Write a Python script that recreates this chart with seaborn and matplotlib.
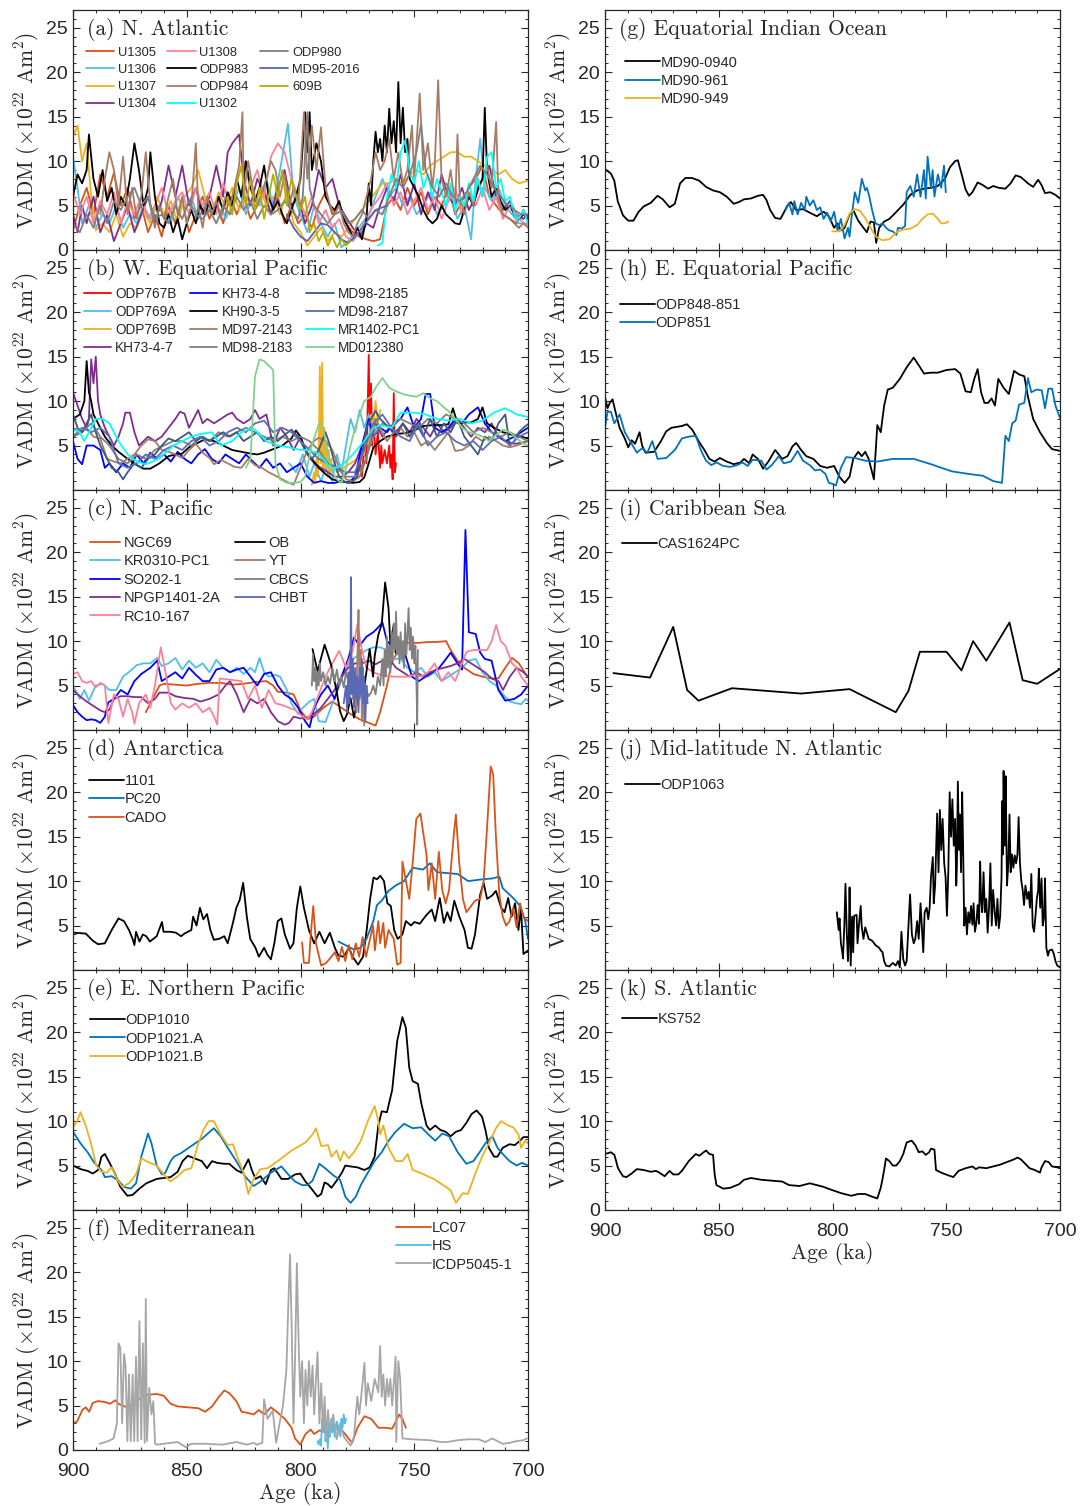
import numpy as np
import pandas as pd
import matplotlib
matplotlib.use("Agg")
import matplotlib.pyplot as plt
import seaborn as sns
from matplotlib.ticker import MultipleLocator

# ======================= DATA (age ka, VADM) =======================
# ---- (a) N. Atlantic ----
A_U1305 = [(900,2.2),(897,5),(894,7),(891,4),(888,8.5),(885,6),(882,8.7),(879,5),(876,7),(873,3.5),(870,5),(867,2),(864,4),(861,1.5),(858,5),(855,3),(852,5.5),(849,2),(846,4),(843,6),(840,3.5),(837,5.5),(834,3),(831,6),(828,4),(825,6),(822,3.5),(819,5),(816,7),(813,4),(810,6),(807,3),(804,5),(801,3),(798,4),(795,2.5),(792,5),(789,6.5),(786,4),(783,5),(780,3),(777,2),(774,1.5),(771,1.2),(768,1),(765,1.2),(762,5),(759,6),(756,4.5),(753,7),(750,5),(747,6.5),(744,4),(741,6),(738,5),(735,7),(732,4),(729,5.5),(726,7),(723,8),(720,9.5),(717,6),(714,5),(711,4),(708,3.5),(705,3),(702,4.5),(700,3.5)]
A_U1306 = [(900,10.5),(898,7),(896,3),(893,5),(890,2.5),(887,4),(884,3),(881,5),(878,2.5),(875,4),(872,3),(869,5),(866,3.5),(863,5),(860,4),(857,3),(854,6),(851,4.5),(848,6),(845,3.5),(842,5),(839,4),(836,6),(833,3.5),(830,5),(827,7),(824,4),(821,6),(818,5),(815,8),(812,5),(809,9),(805.5,14.2),(803,6),(800,4),(797,2),(794,5),(791,3),(788,1.5),(785,3),(782,0.3),(779,1),(776,2),(773,3),(770,4),(767,6),(764,8),(761,6),(758,7),(755,5),(752,6),(749,4),(746,5),(743,6.5),(740,4),(737,5),(734,6),(731,3.5),(728,5),(725,1.2),(723,8),(721,12.5),(719,7),(716,5.5),(713,7),(710,5),(707,4),(704,3),(700,3)]
A_U1307 = [(900,12.8),(898,14),(896,10),(894,12),(892,6),(890,2.2),(887,3),(884,2),(881,4),(878,1.5),(875,3),(872,2.5),(869,4.5),(866,3),(863,6),(860,4),(857,5.5),(854,3),(851,6),(848,7),(845,9),(842,6),(839,4),(836,6.5),(833,5),(830,7),(827,4.5),(824,6),(821,5),(818,7),(815,5),(812,6),(809,4),(806,6.5),(803,3),(800,2),(797,0.5),(794,1.5),(791,2.5),(788,1),(785,2),(782,1.5),(779,2.5),(776,3.5),(773,4.5),(770,5.5),(767,6.5),(764,7.5),(761,7.5),(758,8),(755,7.5),(752,8.5),(749,9),(746,8.5),(743,9.5),(740,10),(737,10.5),(734,11),(731,11),(728,10.5),(725,10.5),(722,10),(719,9.5),(716,9),(713,8.5),(710,9),(707,8),(704,7.5),(700,7.8)]
A_U1304 = [(900,4),(898,2),(896,5),(894,3),(891,6),(888,2),(885,4),(882,1),(879,3),(876,5),(873,2),(870,4),(867,6),(864,3),(861,5.5),(858,9.5),(855,6),(852,9.5),(849,5),(846,7),(843,4),(840,6),(837,9.5),(834,6),(832,11),(830,12),(827,13),(825,8),(822,5),(819,8),(816,6.5),(813,4),(810,7),(807,9),(804,5),(801,6),(798,3),(795,5),(792,9),(789,7),(786,8),(783,5),(780,3.7),(777,2.5),(774,1.5),(771,3),(768,2.5),(765,5),(762,7),(759,5.5),(756,8.5),(753,5),(750,7.5),(747,4),(744,6.5),(741,4.5),(738,8.5),(735,6),(732,5),(729,7),(726,4.5),(723,6),(720,8),(717,9.5),(714,6),(711,4.5),(708,5.5),(705,4),(702,3.5),(700,4)]
A_U1308 = [(900,6.5),(897,4),(894,6),(891,3),(888,5.5),(885,4),(882,6.5),(879,3),(876,5.5),(873,4),(870,6),(867,3.5),(864,5),(861,7),(858,4),(855,5.5),(852,6.5),(849,4),(846,7),(843,5),(840,6.5),(837,4),(834,7.5),(831,5),(828,8),(825,10),(822,7),(819,9),(816,6),(813,10.5),(810,12),(807,11),(804,8),(801,6),(798,4),(795,6),(792,3),(789,4.5),(786,2.5),(783,3.5),(780,1.5),(777,1),(774,2),(771,3.5),(768,5),(765,6),(762,7.5),(759,5),(756,6.5),(753,4),(750,5.5),(747,7),(744,4.5),(741,6),(738,3.5),(735,5.5),(732,7),(729,4),(726,6.5),(723,5),(720,7),(717,4.5),(714,6),(711,3.5),(708,5),(705,4),(702,3),(700,2.8)]
A_ODP983 = [(900,6),(898,8.5),(896,7.5),(894,9),(893,13),(891,8),(889,6),(887,9),(885,5.5),(883,7),(881,4),(879,6),(877,5),(875,8),(873,12),(871,9),(869,5),(867,7),(866,11),(864,6),(862,3),(860,2.5),(858,4),(856,2),(854,3.5),(852,1.2),(850,3),(848,4.5),(846,3),(844,5),(842,4),(840,5.5),(838,4),(836,6),(834,4.5),(832,6.5),(830,5),(828,8),(826,6),(824,10),(822,7),(820,5.5),(818,7),(816,9.5),(814,6),(812,4.5),(810,5.5),(808,4),(806,3),(804,4.5),(802,6),(800,8),(798,15.5),(797,11),(796,15.5),(795,9),(793,12),(791,10),(789,6),(787,5),(785,4.5),(783,5.5),(781,3.5),(779,2.5),(777,1.5),(775,2.5),(773,1.2),(771,3.5),(770,7.5),(769,5),(768,10),(767,13.3),(766,11),(765,12.5),(764,10),(763,14),(762,11),(761,15.9),(760,12),(759,14.5),(758,11),(757,18.9),(756,12),(755,16),(754,11),(753,12.5),(752,8),(750,7),(748,6),(746,4.5),(744,3.5),(742,3),(740,3.5),(738,5),(736,4),(734,3.5),(732,3),(730,2.9),(728,4.5),(726,6),(724,5),(722,7),(720,8),(719,16),(718,9),(716,6),(714,7),(712,5.5),(710,4.5),(708,5),(706,4),(704,3.5),(702,4),(700,3.5)]
A_ODP984 = [(888,4),(886,8),(884,11),(882,9),(880,5),(878,10.5),(876,4),(874,7),(872,3.5),(870,6),(868,11),(866,5),(864,2.5),(862,5),(860,3.5),(858,6),(856,8),(854,4),(852,6),(850,3),(848,5),(846,12),(845,5),(843,2.5),(841,6),(839,4),(837,5.5),(835,3.5),(833,6),(831,5),(829,7),(827,9.5),(825.5,15.5),(825,6),(823,10),(821,7),(819,5),(817,6.5),(815,8),(813,10),(811,9),(809,6),(807,8.5),(805,5),(803,7),(801,5.5),(800,9),(798.5,15.5),(797,8),(795,14),(793,9),(791,13.8),(789,7),(787,5),(785,4),(783,5),(781,3),(779,2),(777,1.5),(775,3),(773,4),(771,6),(769,8),(767,11),(765,9),(763,10),(761,12.5),(759,8),(757,11),(755,7.5),(753,9),(751,14),(750,8),(747.6,17.6),(746,9),(744,12),(742,7),(741,9.5),(739.5,19.1),(738,8),(736,6),(734,9),(732,5),(731,13),(730,6),(728,4),(726,6.5),(724,5),(722,8),(720,6),(718,9.5),(716,7),(714,14.4),(713,6),(711,4),(708,3.5),(706,3),(704,2.5),(702,3),(700,2.5)]
A_U1302 = [(766,0.5),(764,0.8),(762,6),(760,8.5),(758,7),(756,11),(754,12.3),(752,9),(750,7.5),(748,10),(746,7),(744,8.5),(742,6),(740,8),(738,6.5),(736,5),(734,7.5),(732,4.5),(730,6),(728,5),(726,7.5),(724,5.5),(722,8),(720,6),(718,10.5),(716,11),(714,7),(712,8),(710,5.5),(708,6),(706,4),(704,3.5),(702,4.5),(700,3)]
A_ODP980 = [(900,3),(897,2),(894,4),(891,2.5),(888,5),(885,3),(882,5.5),(879,4.5),(876,6),(873,7),(870,5),(867,6),(864,3.5),(861,4),(858,3),(855,5),(852,3.5),(849,5.5),(846,4),(843,3.5),(840,4.5),(837,3),(834,5),(831,4),(828,6),(825,4.5),(822,5.5),(819,3.5),(816,5),(813,4),(810,4.5),(807,5.5),(804,4.5),(801,3.5),(799,6),(797,15.5),(796,7),(794,5),(791,4),(788,3),(785,4),(782,4.4),(779,3),(776,3.5),(773,4.5),(770,3.5),(767,4.5),(764,4),(761,6),(758,8),(755,7),(752,8.5),(749,11),(747,14.2),(745,9),(742,7),(739,6),(736,7.5),(733,6),(730,5.5),(727,6.5),(724,8),(721,9.5),(718,8.5),(715,7),(712,6),(709,5),(706,4.5),(703,4),(700,4)]
A_MD95 = [(806,4),(803,2.5),(800,1.5),(797,1),(794,2),(791,3),(788,2.8),(785,2),(782,1.2),(779,0.8),(776,1.5),(773,2.5),(770,3.5),(767,4.5),(764,4.8),(762,5)]
A_609B = [(832,6),(830,4),(828,7.5),(826,9.5),(824,5),(822,8),(820,4.5),(818,7),(816,3.5),(814,6),(812,8.5),(810,6),(808,9),(806,5),(804,8),(802,6),(800,4.5),(798,6),(796,2),(794,3),(792,1),(790,2),(788,0.5),(786,1.5),(784,0.3),(782,1.2),(780,0.5),(778,1)]

# ---- (b) W. Equatorial Pacific ----
B_ODP767B = [(775,2),(774,3.5),(773,1.5),(772,5),(771,3),(770,15.2),(769.5,6),(769,12),(768.5,5),(768,8),(767,4),(766,6.5),(765,2.5),(764.5,5),(764,3),(763,4.5),(762,3),(761,5),(760.5,2.5),(760,4),(759.5,1.2),(759,10.9),(758.5,2),(758,3)]
B_ODP769A = [(805,3),(802,2),(799,4),(796,1.5),(794,3),(791,1),(789,2.5),(786,1),(784,4),(782,2),(780,5),(778,8),(776,6.5),(774,9),(772,7),(770,8.5),(768,6),(766,7.5)]
B_ODP769B = [(795,0.6),(794,2),(793.5,1),(793,3.5),(792.5,1.5),(792,4),(791.5,13.9),(791,3),(790.5,14.3),(790,2),(789.5,7),(789,2.5),(788.5,5.5),(788,1.5),(787.5,4.5),(787,2),(786.5,3.5),(786,1.8),(785,3),(784,2),(772,4),(771,6),(770,5),(769,8.5),(768,7),(767,10),(766,7.5),(765,9)]
B_KH7347 = [(900,11),(898,9.5),(896,8),(894,7),(893,8),(892,14.7),(891,12),(890,15),(889,10),(888,8.5),(886,7),(884,6),(882,5),(880,6),(878,7.5),(877,8.7),(875,8.7),(873,6.5),(871,5),(869,5.5),(867,6),(864,5.5),(861,6),(858,7),(855,8),(853,8.8),(851,8.6),(849,7),(847,8),(845,9),(843,7.5),(841,8),(838,7.5),(835,8),(832,8.5),(830,8.7),(828,8),(825,7.5),(822,8),(820,9),(818,8),(815,8.5),(812,5),(809,7),(806,6),(803,4.5),(800,6),(797,4),(794,3),(791,2.5),(788,2),(785,1.5),(782,1.5),(779,2),(776,3),(773,5),(770,6),(767,7.5),(764,6),(761,7),(758,6),(755,7.5),(752,6.5),(749,8),(746,7),(743,6),(740,7.5),(737,6.5),(734,7),(731,8),(728,7),(725,6),(722,7),(719,6.5),(716,7.5),(713,6),(710,5.5),(706,5.2),(703,5.3),(700,5.5)]
B_KH7348 = [(900,5.5),(898,3.5),(896,2.9),(894,5),(891,5),(888,4.5),(886,2.5),(884,3),(881,2),(878,3),(875,2.5),(872,4),(869,3),(866,4.2),(863,3.5),(860,4),(857,3.2),(854,4.3),(851,3.5),(848,3),(845,4),(842,4.6),(839,3.5),(836,3),(833,4),(830,3.5),(827,3),(824,4),(821,3.2),(818,2.5),(815,3.5),(812,2.5),(809,3),(806,2),(803,2.5),(800,3),(797,1.5),(794,0.8),(791,1),(788,0.8),(785,0.8),(782,1),(779,0.8),(776,1.5),(773,5),(770,8),(768,6),(765,7),(762,6.5),(759,7.5),(756,8),(753,9.3),(750,7),(747,8),(745,10.8),(743,10.8),(741,7),(738,6.5),(735,7),(732,8),(729,7.5),(726,8.5),(722,9.3),(719,7.5),(716,6.5),(713,6),(710,5.5),(706,6),(703,6.5),(700,7)]
B_KH9035 = [(900,8),(897,8.5),(895,10),(894,14.5),(893,11),(892,10),(891,8.5),(889,7.5),(886,6),(883,5),(880,4.3),(876,3.5),(872,2.8),(869,2.4),(866,2.4),(862,3),(858,3.8),(855,4),(852,4.1),(849,4.8),(846,5.2),(842,5.7),(838,5.5),(834,5),(830,4.5),(826,4.3),(822,4.1),(819,4),(816,4.2),(813,4.5),(808,5),(804,5.8),(802,6.7),(800,6),(798,4.5),(795,3.5),(792,2.5),(789,1.8),(786,1.2),(783,1),(780,0.9),(777,0.8),(774,0.9),(772,1.4),(770,3),(768,4.8),(765,5.5),(762,6),(758,6.3),(754,6.4),(750,6.7),(746,7.2),(742,7.3),(738,7.3),(735,7.4),(733,9.2),(731,7.5),(728,7.6),(725,7.6),(722,8),(720,9.3),(718,7.5),(715,7),(711,6.5),(707,6.2),(703,6),(700,5.8)]
B_MD972143 = [(900,7),(897,6.5),(894,7),(891,6),(888,5.8),(885,3.5),(882,3.2),(879,3),(876,3.5),(873,4),(870,5),(867,5.7),(864,5.5),(861,4.5),(858,4.3),(855,4),(852,3.6),(849,4.5),(846,5.2),(843,4.2),(840,3.6),(838,2.9),(835,3.4),(832,3),(829,2.6),(826,2.5),(823,3.5),(820,2.8),(817,2.5),(814,2),(811,1.6),(808,1.2),(805,0.8),(803,0.6),(800,2.5),(797,4.5),(794,5.5),(792,5.9),(789,5.5),(786,4.5),(783,2.5),(780,1.2),(777,1),(774,1.5),(771,3.5),(769,6),(767,8),(765,7),(762,5.5),(759,6.5),(756,7),(753,6),(750,6.5),(747,5),(744,5.5),(741,4.5),(738,5.5),(735,6.5),(732,4.4),(729,4.5),(726,5),(723,6),(720,5.5),(717,6),(714,5.5),(711,5),(708,4.8),(705,5),(702,5.3),(700,5.5)]
B_MD982183 = [(900,6),(896,6.5),(892,7.5),(888,6),(884,5),(880,3.5),(876,3),(872,4),(868,3.5),(864,4.5),(860,5),(856,5.5),(852,5.5),(848,5),(844,6),(840,5.5),(836,6.5),(832,6),(828,6.5),(824,7),(820,6.5),(816,6),(812,5.5),(808,6),(804,5.5),(800,6),(796,5.5),(792,4.5),(788,3),(784,2.5),(780,1.5),(776,1.5),(772,3),(768,6),(764,7.5),(760,7),(756,8),(752,7.5),(748,7),(744,8),(740,7.5),(736,8.5),(732,8),(728,7.5),(724,6.5),(720,7),(716,6.5),(712,6),(708,6.5),(704,6),(700,5.5)]
B_MD982185 = [(900,8.5),(898,7),(896,6.5),(894,7.5),(892,8.5),(890,6.5),(888,5),(886,4),(883,2.5),(880,2),(878,1.2),(876,2),(873,3),(870,2.5),(867,3.5),(864,4),(861,5),(858,5.8),(855,5.5),(852,6),(849,6.5),(846,5.5),(843,6),(840,5.5),(837,6),(834,6.5),(831,6),(828,6.5),(825,5.5),(822,6),(819,6.5),(816,5.5),(813,6),(810,5.5),(807,6.2),(804,6.8),(801,6),(798,4.5),(795,3.5),(792,4.5),(789,6.5),(787,5),(785,3),(783,1.5),(781,1),(779,0.8),(777,1),(775,1.5),(773,4),(771,7),(769,8),(767,8.9),(765,8),(763,7.5),(761,7),(758,6.5),(755,7.5),(752,6),(749,7.5),(746,6),(743,8),(740,6),(737,7.5),(734,6.5),(731,8),(728,6),(725,5),(722,4),(719,6),(716,5.5),(713,7.5),(710,8.5),(708,5),(706,5.5),(704,6.5),(702,7),(700,7.4)]
B_MD982187 = [(900,6),(896,7),(892,6.5),(888,7),(884,6),(880,3),(876,2.5),(872,3),(868,4),(864,3.5),(860,4.5),(856,5),(852,4.5),(848,5.5),(844,6),(840,5),(836,5.5),(832,6.5),(828,7),(824,6.5),(820,7.5),(816,7.8),(812,6.5),(808,7),(804,6.5),(800,5.5),(796,4.5),(792,3.5),(788,3),(784,2.5),(780,2),(776,2),(772,4.5),(768,7.5),(764,8.5),(760,7),(756,6),(752,5.5),(748,7.5),(744,5),(740,6),(736,6.5),(732,5.5),(728,5),(724,5.5),(720,4.5),(716,5.5),(712,6),(708,5),(704,6),(700,6.5)]
B_MR1402 = [(900,6.8),(897,6.5),(895,5.5),(893,6.5),(890,8),(887,8),(884,7.5),(880,5.5),(876,4),(872,3.2),(868,2.9),(864,3.3),(860,4),(856,5),(852,5.5),(848,6),(844,6.3),(839,6.5),(835,5),(830,5.5),(826,6.5),(821,7),(815,5.5),(810,5),(805,4.8),(800,4.5),(797,4.5),(793,4.2),(790,3.5),(787,2.5),(784,2.5),(781,3),(777,4),(772,5.5),(768,7),(765,7.3),(760,7),(756,8.7),(750,8.7),(745,8.5),(740,8),(735,7.8),(730,8),(725,7.5),(720,7.8),(715,8.7),(710,9.2),(705,8.5),(700,8.2)]
B_MD012380 = [(824,2.5),(822,3.5),(820,12.8),(818,14.7),(816,14.5),(814,14),(812,13.5),(811,3),(809,1.2),(806,0.8),(803,0.8),(800,0.9),(798,1.5),(795,5),(792,7.4),(790,7),(788,4),(786,2),(784,1.2),(782,0.8),(780,2.5),(778,5),(776,7),(774,8.5),(772,10),(769,10.5),(767,11.5),(764,12.6),(761,11.5),(758,11.1),(755,10.8),(752,10.6),(749,10.5),(746,10.9),(743,10.3),(740,10),(737,9.3),(735,8.9),(732,8),(729,7),(726,6.5),(723,6.3),(720,6),(717,5.5),(714,6.2),(711,6.8),(708,6.5),(705,5.8),(702,5.2),(700,5)]

# ---- (c) N. Pacific ----
C_NGC69 = [(868,2),(866,3),(864,4),(862,5),(860,5.2),(855,5.1),(850,5),(845,5.2),(840,5.3),(835,5.3),(830,5.1),(825,5.2),(820,5.4),(815,5.5),(812,5),(810,4.3),(806,4.2),(803,4),(800,2.2),(797,1.2),(794,1.5),(790,2.5),(786,3.2),(782,2.5),(778,1.8),(774,1.2),(770,0.8),(767,0.5),(765,2),(762,5),(760,7.5),(758,8.5),(756,9.7),(752,9.8),(748,9.8),(744,9.9),(740,9.9),(736,10),(734,9),(731,7.8),(728,7),(724,6.3),(720,6),(716,5.8),(713,5.8),(710,7),(707,8.1),(704,7.5),(701,6.3),(700,6)]
C_KR0310 = [(900,5),(898,4),(897,3.5),(895,4.5),(893,3.3),(890,5),(887,5.2),(884,4.5),(881,4.5),(878,6),(875,6.6),(872,7.3),(869,7.5),(866,7.5),(863,8.1),(861,7.2),(858,7.5),(855,8.1),(852,6.8),(849,7.8),(846,7),(843,7.5),(840,6.5),(837,7.9),(834,7),(831,6.5),(828,7),(825,6.3),(822,7),(820,6.5),(818,8.1),(816,6.5),(814,6),(811,6.2),(809,6),(806,4.5),(804,3),(801,1.8),(799,2.5),(796,3.2),(794,3.5),(792,1),(789,0.9),(786,3),(783,5),(780,7),(777,8),(774,8.5),(771,9),(768,9.3),(765,9.3),(762,9),(759,8),(756,8),(753,7),(750,6.5),(747,7),(744,6),(741,6.5),(738,5.5),(735,6),(732,6.5),(729,7),(726,7.8),(723,8),(720,6.5),(717,5.5),(714,5),(711,4),(708,3.2),(705,3),(703,2.9),(701,3.5),(700,3.3)]
C_SO202 = [(900,2.8),(898,2),(896,1.5),(894,1.1),(892,1.2),(890,1.1),(888,0.8),(886,1.5),(884.5,3.1),(882,3.5),(879,4.5),(876,4),(873,5.5),(870,6.3),(866,7),(863,7.8),(861,5.5),(858,6),(855,6.5),(852,5.8),(849,7),(846,6.2),(843,5.5),(840,5.5),(837,6.8),(834,7),(831,6.5),(828,6.8),(825,7),(822,6),(819,5),(816,6.3),(813,6.5),(810,5),(807,4),(804,3.5),(801,2.5),(798,1),(796,0.3),(794,2.5),(791,4),(788,5),(785,3.5),(782,6),(779,8),(776.5,10.4),(774,9.5),(771,10.5),(768,11),(766,11.5),(764,12.1),(762,10),(760,9.5),(757,9),(754,8.5),(751,6),(748,5.5),(745,6),(742,6.5),(739,7),(736,8),(734,8.7),(731,7.5),(729,6.8),(727.5,22.5),(726,11),(723,10.8),(721,8.7),(719,8),(716,7.8),(713,4.5),(710,3.3),(706,3.5),(703,4),(700,5)]
C_NPGP = [(900,4.5),(897,3.8),(894,3.2),(891,2.7),(888,2.2),(886,2),(884,2.3),(882,3.5),(879,3.8),(876,3.8),(873,3.7),(870,3.7),(867,3),(864,3.5),(862,4.2),(858,4.2),(855,3.8),(851,3.6),(847,3.5),(844,3.2),(840,3.5),(836,4),(833,5),(831,5.5),(828,4),(825,2),(822,3.5),(819,3),(816,3.5),(813,2),(810,1),(807,0.6),(805,0.8),(803,1.5),(800,1.3),(797,1.4),(794,1.8),(791,2.5),(788,3.5),(785,4.5),(782,6),(779,7),(776,7.5),(773,7.5),(770,7.8),(767,7.4),(764,7.8),(761,8),(758,7),(755,6.5),(752,6),(749,6.5),(746,6),(743,6.5),(740,6.8),(737,7),(734,7.2),(731,7.5),(728,8),(725,7.5),(722,7),(719,6.5),(716,5.8),(713,5.5),(711,4.5),(708,6),(705,7),(702,6.5),(700,6)]
C_RC10 = [(900,6.3),(898,6.5),(896,5.5),(894,5.3),(892,5.5),(890,4.8),(888,5.3),(886,5),(884.5,0.8),(882,4),(880,3.5),(878,1.5),(876,3.5),(874,2),(873,0.7),(871,3),(868,4),(866,2.5),(864,5),(861.4,9.3),(859,6),(857,3),(855,2.3),(852,3),(849,2.5),(846,3),(843,2),(840,2.5),(838,1.5),(836.6,0.6),(835.5,5.8),(832,5.7),(829,5.6),(826,5.5),(823,3.5),(820,5),(817,2.5),(814,4.5),(811,3),(808,2.8),(805,2.5),(802,2.2),(799,1.5),(797,1.2),(795,2),(792,4),(789,6),(786,7.5),(783,8.9),(780,7),(777,9),(775,11.9),(773,9),(771,7),(768,6.5),(765,6.2),(762,6.1),(759,6),(756,6),(753,6),(750,6.2),(747,6),(744,6.5),(741,7.5),(738,5.5),(735,6.5),(732,5.5),(729,7.5),(727,8.8),(724,9),(721,9),(718,9),(716,10),(714,11.8),(712,10),(710,9.5),(707,7.5),(705,7),(703,6),(700,5)]
C_OB = [(794.7,9.1),(792.5,6.6),(789.4,9.6),(788,8.5),(786.4,7.2),(784.1,4.3),(782.6,2.1),(781,1),(779.5,1.8),(778,3.6),(776.5,1.4),(775,3.3),(773.5,6.3),(772,4.8),(769.6,9.1),(768.1,6),(767.4,8.3),(765.8,10.7),(764.3,11.9),(762.8,16.6),(761.3,13.7),(760.5,9.6),(759,11.9),(758.2,8.7)]
C_YT = [(777,3.5),(776,6),(775.5,2),(775,8),(774.5,13.5),(774,4),(773.5,9),(773,1),(772.5,7),(772,0.5),(771.5,5),(771,3)]
C_CBCS = [(795,5),(794.5,8.5),(794,5.5),(793.5,7),(793,4.5),(792.5,6.5),(792,5),(791.5,7.5),(791,5.5),(790,6.5),(789,5),(788,6),(787,5.2),(786,7),(785,5.5),(784,6.8),(783,5),(782,6),(781,4.8),(780,6.5),(779,5.5),(778,4.5),(777,5),(776,3.8),(775,4.5),(774,3.5),(773,4.2),(772,3.3),(771,4.5),(770,3.8),(769,4.2),(768,5),(767,4),(766,6),(765,5),(764,8),(763.5,5),(763,9),(762.5,6),(762,10.5),(761.5,7),(761,9.5),(760.5,6.5),(760,11),(759.5,8),(759,12),(758.5,9),(758,13.3),(757.5,8.5),(757,10.5),(756.5,7.5),(756,11),(755.5,8),(755,10),(754.5,7),(754,12),(753.5,8.5),(753,10.5),(752.5,13.7),(752,9),(751.5,11.5),(751,8),(750.5,10.5),(750,7.5),(749.5,9.5),(749,5),(748.7,0.6),(748.4,9)]
C_CHBT = [(781,3),(780,5),(779.5,2),(779,6.5),(778.5,3),(778,9),(777.8,17.2),(777.5,4),(777,8),(776.5,2.5),(776,7),(775.5,3.5),(775,6),(774.5,2),(774,7),(773.5,4),(773,8),(772.5,3),(772,6),(771.5,1),(771,5),(770.5,3)]

# ---- (d) Antarctica ----
D_1101 = [(900,4.2),(894.4,4.1),(891.3,3.3),(889,2.9),(886,3.0),(883,4.5),(880,5.8),(877.6,5.5),(875.4,4.5),(873.8,3.5),(873,2.8),(872.3,4.3),(870.8,3.2),(869.3,4),(867.8,3.8),(866.2,3.2),(863.2,3.8),(860.9,5.4),(860.2,4.3),(857.1,4.3),(854.8,4.2),(852.5,3.8),(851,4.1),(848,4.5),(847.2,6),(845.7,5),(844.2,7),(842.7,5.7),(841.1,6.3),(839.6,4.5),(838.1,3.4),(835.8,3.5),(833.5,3.8),(832,3),(829.7,5.3),(828.2,7),(826.7,7.9),(825.2,9.8),(823.6,6),(822.1,3.5),(819.8,2.5),(818.3,1.5),(816,2.5),(814.5,1.7),(813,1.2),(811.5,3),(810,5.5),(808.4,5.8),(806.9,4),(804.6,2.4),(803.1,3),(801.6,7),(800.1,9.4),(798.5,7),(796.3,4.5),(794,3),(791.7,4.3),(789.4,3),(787.1,4.2),(784.9,2.5),(783.3,1.6),(781,1.5),(778.7,2.5),(777.1,1.5),(774.7,0.6),(772.5,1.5),(770.9,4.5),(769.4,8),(767.9,10.4),(766.4,10.2),(764.9,10.6),(763.3,10),(761.8,7.5),(760.3,7.2),(758.8,4.5),(757.3,3.5),(755.2,4),(753.7,5.5),(751.4,5),(750,5.4),(747.6,5.2),(744.6,6.2),(742.3,6.8),(740.8,5.5),(738.8,8.1),(737,5.3),(735.5,6.5),(734,5.5),(732.4,7.8),(730.2,6),(727.9,4.5),(726.4,2.5),(724.8,2.4),(723.3,4),(721,8.5),(719.5,9.8),(718,8),(715.7,8.4),(714.1,8.9),(711.8,7),(710.3,6.5),(708.7,8.1),(707.2,6),(705.7,7.5),(704.2,4.5),(703.1,7),(702,1.8),(700,2.2)]
D_PC20 = [(783.3,3.2),(779.5,2.7),(776.5,2.3),(773.5,2.5),(771,3.5),(768,5.5),(766.4,7.3),(764.3,7.8),(761.3,8.9),(758.2,9.5),(754.5,10),(750.7,11.5),(746.1,11.3),(743.1,12),(740,11),(735.4,10.9),(730.9,10.8),(726.3,10),(720.2,10.2),(715.7,10.3),(712.6,10.5),(711.1,9.2),(706.5,8.1),(703.5,7.2),(701.2,5.5),(700,3.5)]
D_CADO = [(799.3,3.1),(798.5,0.8),(796.3,0.8),(795.5,4),(794.4,7.2),(793.2,3),(790.9,0.5),(788.7,0.8),(786.4,1.5),(784.9,2),(783.3,1),(781.8,2.6),(780.3,1),(778.8,2.8),(777.2,1.2),(775.7,3),(774.2,1.5),(772.7,3.7),(771.2,1.5),(769.6,3.3),(768.1,5),(767.3,2.2),(765.8,5.5),(765,3),(763.6,5.3),(762.8,2.5),(761.3,4.5),(759,3.5),(757.5,0.6),(756,0.8),(755.2,12.2),(752.2,8),(750.7,12),(749.1,17),(747.3,17.6),(745.8,15),(744.6,13),(743.8,9),(742.3,12),(740.8,8),(739.2,13.3),(737.7,9),(736.2,7.5),(734.7,9),(732.7,15),(731.7,17.5),(730.2,12),(728.6,8),(727.1,6.5),(725.6,7),(723.3,7.8),(721,8),(719.5,10),(718,16),(716.4,22.9),(715.3,22),(714.1,15),(712.6,8.5),(711.1,6),(709.6,5),(708.1,5.5),(706.5,7),(705,4.8),(703.5,7.5),(702,6),(700,5.5)]

# ---- (e) E. Northern Pacific ----
E_1010 = [(900,5),(896.7,4.6),(893.6,4.4),(891.3,4.1),(889,4.5),(887.5,6),(886,6.3),(883.7,5.2),(881.4,4),(879.2,2.6),(876.1,1.6),(873.8,1.7),(870.8,2.4),(867.8,3),(863.2,3.5),(860.1,3.6),(857.1,3.7),(854,4.3),(851.8,5.5),(849.5,6.1),(846.5,5.8),(843.4,5.5),(841.1,4.7),(838.9,5.5),(836.6,5.3),(833.5,5.2),(831.3,5.2),(828.2,4.5),(825.9,4.2),(822.9,5.7),(821.4,4.5),(819.8,3.5),(817.6,3.8),(815.3,2.9),(813,4.5),(811.5,4.7),(808.4,3.5),(805.4,3.5),(802.4,4),(800.1,4.1),(797.8,3.2),(795.5,2.5),(792.5,1.5),(790.9,1.8),(789.4,3.1),(787.9,2.9),(786.4,2.5),(784.1,3.3),(781.8,4.2),(780.3,5),(778,4.9),(775,4.8),(771.9,4.5),(769.6,4.8),(767.4,6),(765.8,9.5),(764.3,11.1),(762,11),(759.7,13.5),(757.5,19),(755.2,21.7),(753.7,20.5),(752.2,16),(750.7,14.5),(748.4,14.2),(746.9,12),(744.6,9.5),(743.1,9),(740.8,9.5),(738.5,9),(736.2,8.8),(734,8.3),(731.7,8.8),(729.4,9),(727.1,9.8),(724.8,10.8),(722.6,11.2),(720.2,10.5),(718.7,9),(717.2,7),(714.9,6),(713.4,6),(711.1,7),(708.1,7.4),(705.8,7.3),(703.5,7.8),(702,8.2),(700,8.2)]
E_1021A = [(900,8.8),(896.7,7.5),(893.6,6.5),(890.6,5.3),(887.5,4.5),(886,3.7),(883,3.8),(880,3.3),(877.6,2.6),(874.6,2.4),(872.3,3),(870,6),(867,8.6),(865.5,7.5),(863.2,5),(860.9,4),(859.4,4.2),(857.1,5.5),(855.6,6),(852.5,6.4),(848,7.2),(843.4,8),(838.1,9.2),(835.1,8.3),(832,7),(828.2,5.5),(824.4,3.8),(820.6,2.7),(817.6,3.2),(813,4.2),(808.4,4.9),(805.4,4),(802.4,3.2),(799.3,2.8),(797,2.8),(794.7,3.3),(791.7,5.2),(788.7,4.6),(785.6,3.9),(782.6,3.4),(780.3,1.5),(778,0.8),(775.7,1.5),(773.5,2.8),(770.4,4.2),(767.4,5.5),(764.3,6.5),(761.3,7.8),(758.2,8.8),(754.5,9.7),(750.7,9.2),(746.9,9.3),(743.8,8.5),(740.8,7.8),(737.7,8.6),(734.7,8.3),(730.9,6.5),(727.1,5.2),(724,5.5),(721,6.6),(718.7,7.5),(715.7,8.3),(713.4,7),(711.1,6.3),(708.1,5.5),(705,5),(702.7,5.3),(700,5)]
E_1021B = [(900,9.3),(898.2,10),(896.7,11),(894.4,9.5),(892.1,7.5),(889.8,5),(887.5,4.3),(885.2,4.2),(883,4.8),(880.7,3.5),(878.4,2.6),(875.4,3),(872.3,4),(870,5.8),(866.2,5.3),(863.2,5),(860.1,4),(857.1,3.2),(854,3.8),(851,4.5),(848,4.7),(844.9,7.5),(842.7,9),(840.4,10),(838.1,10),(835.1,8.5),(832,7.3),(829.7,7.4),(827.4,5.7),(825.1,4.3),(822.9,1.8),(820.6,3.5),(817.6,4.6),(814.5,4.7),(810,5.5),(803.9,6.7),(797.8,7.6),(794.7,8.5),(793.2,9.2),(790.9,7.2),(787.9,7.3),(786.4,6),(784.1,6.7),(782.6,5.5),(781,6.6),(778.8,5.8),(776.5,6.5),(773.5,7.8),(770.4,10),(767.4,11.7),(765.8,10),(765,8.5),(763.6,9.5),(761.3,7),(758.2,5.5),(755.2,5.5),(752.9,6.3),(750.7,4.5),(747.6,4.2),(741.5,3.5),(735.5,2.5),(734,2.2),(731.7,0.8),(728.6,1.9),(726.4,1.8),(723.3,4),(720.2,6),(717.2,7.5),(714.1,9.2),(711.8,10),(708.7,9.5),(706.5,9.3),(704.2,8.5),(703.1,7),(701.2,7.8),(700,7.5)]

# ---- (f) Mediterranean ----
F_LC07 = [(900,3),(898.2,3.2),(895.9,4.5),(894.4,4.8),(892.9,4.3),(891.3,5.3),(889,5.5),(886,5.4),(883.7,5.2),(881.4,5.6),(880,5.2),(878.4,5),(876.1,4.8),(872.3,5.5),(867.8,6.2),(863.2,6.3),(860.1,6.1),(857.1,5.2),(854,4.9),(849.5,4.8),(844.9,4.7),(841.9,4.3),(838.9,4.9),(835.8,6),(833.5,6.7),(831.3,6.4),(828.2,5.5),(825.9,4.3),(823.6,4.2),(820.6,4),(818.3,4.5),(816,4),(813,4.8),(810,4.2),(806.9,3.5),(803.9,2.5),(802.4,1.3),(800.1,0.6),(797.8,1.8),(795.5,2.3),(794,1.8),(791.7,2.2),(788.7,2),(785.6,2.6),(782.6,2.5),(779.5,1.5),(777.3,0.8),(775,2.5),(771.9,3.8),(768.9,3.5),(765.8,2.5),(762.8,2.5),(759.7,2.4),(756.6,4),(755.2,3.5),(753.7,2.5)]
F_HS = [(792.5,1),(792,0.6),(791.5,1.2),(791,0.5),(790.5,3.5),(790,2),(789.5,3.8),(789,1),(788.5,2.5),(788,0.2),(787.5,3),(787,1.5),(786.5,3.5),(786,2),(785.5,3),(785,1.5),(784.5,2.5),(784,3.2),(783.5,2),(783,2.8),(782.5,1.5),(782,3.5),(781.5,2.5),(781,4),(780.5,3),(780,3.5)]
F_ICDP = [(888.3,0.7),(884.5,1),(882.2,1.3),(880.7,3),(880,12),(879.2,11.5),(878.4,3),(877.6,10.8),(876.9,9.5),(876.1,1),(875.4,8.5),(874.6,1),(873.8,8.5),(873.1,1),(872.3,10.5),(871.6,1),(870.8,14.5),(870,1.2),(869.3,12),(868.5,0.8),(868,17),(867.5,1),(866.5,7),(865.5,4),(864.7,5.5),(863.9,0.7),(863.2,0.6),(857.1,0.8),(854,0.9),(850.3,0.3),(848,0.7),(841.9,0.7),(834.3,0.6),(828.2,0.9),(823.6,0.6),(820.6,0.8),(819.1,0.6),(816.8,0.8),(816,5.7),(814.5,3.5),(812.2,4.4),(810.7,0.8),(809.2,3),(807.7,5),(806.2,9),(805.4,16),(804.6,22),(803.9,14),(803.1,3),(802.4,10),(801.6,21),(800.8,12),(800.1,6),(799.3,10),(798.5,3),(797.8,9),(797,5),(796.3,10),(795.5,6),(794.7,9.5),(794,4),(793.2,8),(792.5,11),(791.7,3),(790.9,7.5),(790.1,2),(789.4,6),(788.7,1),(787.9,4.5),(787.1,1.5),(785.6,4),(784.1,1.2),(782.6,3),(781,1.5),(779.5,1),(778,0.5),(776.5,1.5),(775,6),(774.2,4),(773.5,5.5),(771.9,9.8),(771.2,5),(770.4,7.5),(768.9,5.5),(767.4,8),(765.8,6.5),(765,11.7),(764.3,6),(763.6,8.5),(762.8,5),(762,8),(761.3,6),(760.5,8),(759.7,5),(759,7.5),(758.2,10.5),(757.9,0.9),(757,10),(756.2,8),(755.2,1.3),(750.7,1.2),(743.1,1.1),(738.5,0.9),(735.4,0.9),(730.9,1.1),(726.3,1.2),(721.7,1.2),(718.7,0.9),(715.7,1.3),(713.4,1),(711.1,0.7),(708.1,0.8),(705,1),(702,1.1),(700.5,1.3)]

# ---- (g) Equatorial Indian Ocean ----
G_0940 = [(900,9.1),(897.4,8.6),(895.9,7.8),(894.4,5.5),(892.1,3.9),(889.8,3.3),(887.5,3.3),(885.2,4.3),(883,4.9),(879.9,5.3),(876.9,6.1),(874.6,5.7),(871.6,4.8),(869.3,5.2),(867,7.5),(864.7,8.1),(861.7,8.1),(858.6,7.8),(855.6,7.1),(852.5,6.7),(849.5,6.5),(846.5,6),(843.4,5.2),(841.1,5.4),(838.9,5.7),(835.8,5.8),(832.8,6.1),(830.5,6.2),(829,5.6),(827.4,4.5),(825.2,3.6),(822.9,3.5),(821.4,4.2),(819.8,5),(818.3,5.4),(816,4.5),(813,4.6),(810,4.2),(806.9,3.8),(803.9,4.3),(801.6,3.8),(799.3,2.5),(797.8,3),(796.3,2.2),(794.7,2.5),(792.5,4),(790.9,4.5),(788.7,3.3),(786.4,2.5),(784.9,2),(783.3,3.2),(781.8,3.1),(780.8,0.8),(779.5,2.5),(777.3,3.2),(775,3.5),(771.9,4.3),(768.9,5.1),(765.8,6.2),(762.8,6.7),(759.8,6.9),(756.7,7),(753.7,7.2),(750.6,8),(748.4,9.3),(746.1,10),(744.9,10.1),(743,8.3),(741.5,6.8),(740,6.1),(738.5,6.5),(736.2,7.6),(733.9,7.3),(731.6,6.9),(729.3,7.2),(727,7),(724,6.9),(721.7,7.5),(719.5,8.4),(717.2,8.2),(714.1,7.5),(711.8,7.1),(709.6,7.9),(708.1,7.3),(706.6,6.4),(704.3,6.5),(702,6.2),(700,5.8)]
G_961 = [(820.6,4.5),(819.1,5.3),(817.6,4),(816.8,5.5),(815.3,4),(813.8,5.3),(812.2,4.5),(811.5,6),(810,5),(808.4,5.6),(806.9,4.5),(805.4,4.8),(803.9,3.5),(802.4,4.2),(800.8,3.2),(799.3,4.3),(797.8,2.2),(796.3,3.5),(794.7,1.3),(793.2,2.5),(792.5,1.5),(791.7,3.5),(790.2,6.5),(788.7,5.3),(787.1,8),(785.6,6.7),(784.9,7),(783.8,6),(782.6,4.5),(781.1,3),(779.5,2.8),(778,3),(776.5,2.5),(775,2.2),(773.5,2.1),(771.9,1.7),(771.2,2.5),(769.6,2.4),(768.1,2.7),(767.4,6.5),(765.8,7.2),(764.3,6),(762.8,8.5),(761.3,6),(759.8,9),(759,5.8),(758.2,10.5),(756.7,7),(756,9),(755.2,6),(753.7,8.5),(752.2,7),(751,9.5),(750.2,6.5)]
G_949 = [(800.1,2.1),(797,2.1),(794.7,2.8),(792.5,4.1),(790.2,4.6),(787.9,4.4),(785.6,3.6),(783.3,2.5),(781,1.5),(778,1.1),(775,1.2),(771.9,2),(768.9,2.3),(765.8,2.4),(762.8,2.8),(760.5,3.5),(758.2,4),(756,4.1),(753.7,3.5),(752.2,3),(750.6,3),(749.1,3.2)]

# ---- (h) E. Equatorial Pacific ----
H_848 = [(900,10.5),(898.9,9.2),(897.9,9.8),(896.7,10.2),(895.1,8.5),(893.6,7),(891.3,5.8),(889.8,4.8),(888.3,5.6),(886.8,5.2),(884.8,6.5),(883.7,5),(882.2,4.2),(878.4,4.3),(875.4,5.5),(873.1,6.6),(870.8,7),(866.2,7.2),(864,7.4),(861.7,6.8),(858.6,5.4),(856.3,4.5),(854.1,3.5),(851.8,3.2),(849.5,3.6),(846.5,3.2),(843.4,2.9),(840.4,3.1),(838.9,3.5),(836.6,3),(835.1,4),(832.8,3.5),(830.5,2.4),(828.2,3.2),(825.2,4.5),(822.1,3.5),(819.8,3.8),(817.6,4.9),(816,5.3),(813.8,4.5),(811.5,3.8),(808.4,3.5),(805.4,2.7),(802.4,2.5),(799.3,2.7),(797,1.5),(794.7,0.8),(792.5,1.5),(790.9,3.5),(788.7,4.3),(787.1,3.8),(785.6,4.3),(784.1,3.5),(781.8,1.2),(780.3,7.3),(778.8,6.5),(777.3,9.5),(775.7,11.3),(773.5,11.5),(770.4,12.5),(767.4,13.8),(764.3,14.9),(762,14),(759.8,13.1),(756.7,13.2),(753.7,13.2),(749.9,13.5),(746.1,13.6),(743.8,13.1),(741.5,11.1),(739.2,11),(737.7,12.5),(736.2,13.6),(734.7,11),(733.2,9.8),(731.6,9.8),(730.1,10.3),(728.6,9.5),(727.1,12.5),(724.8,11.5),(722.5,10.8),(720.2,13.4),(718,13),(715.7,12.8),(714.1,10.5),(711.8,8),(708.8,6.5),(705.8,5.3),(703.5,4.6),(700,4.4)]
H_851 = [(900,7),(898.9,8.8),(897.4,8.8),(895.9,7.5),(893.6,8.5),(891.3,6.5),(889,5.5),(886,4.2),(883.7,4.7),(881.4,4.2),(879.2,5.5),(876.9,3.5),(873.1,3.6),(869.3,4.5),(866.2,5.8),(863.2,6),(860.1,6.1),(857.9,4.5),(855.6,3.3),(853.3,2.8),(851,3.1),(848,2.7),(844.9,2.6),(841.9,2.8),(839.6,3.1),(837.3,2.7),(835.1,3.4),(831.3,3.3),(829,2.3),(826.7,2.8),(823.6,3.8),(821.4,3),(818.3,3.2),(815.3,4.4),(813,3.3),(810,2.8),(807.7,2.2),(805.4,2.3),(803.1,1.8),(801.6,0.8),(800.1,0.7),(798.5,0.5),(796.3,2.5),(794,3.7),(790.2,3.6),(785.6,3.3),(780.3,3.2),(773.5,3.5),(764.3,3.5),(756.7,2.9),(747.6,2.1),(740,1.8),(733.9,1.6),(729.3,1),(725.5,0.8),(724,6.1),(722.5,5.5),(721,7.5),(719.5,7.8),(718,9.6),(715.7,9.8),(714.1,12.6),(712.6,11),(710.3,11.3),(708,11.2),(706.6,9.2),(705.1,11.4),(703.5,11.4),(702,9.5),(700,8.1)]

# ---- (i) Caribbean Sea ----
I_CAS = [(896.3,6.4),(880.2,5.9),(870.0,11.6),(863.9,4.5),(858.9,3.3),(844.2,4.7),(813.8,4.1),(792.5,4.6),(772.2,2.0),(766.6,4.4),(761.6,8.8),(749.9,8.8),(743.3,6.7),(738.2,10.0),(732.4,7.8),(722.2,12.1),(716.4,5.6),(710.0,5.2),(700.4,6.8)]

# ---- (j) Mid-latitude N. Atlantic ----
J_1063 = [(798.1,6.5),(797.3,4.5),(796.9,5.8),(796.3,3),(795.7,2),(795.4,1.3),(794.8,5),(794.3,9.7),(793.7,4),(793.2,1),(792.8,4),(792.5,9.3),(792.0,0.5),(791.4,6),(790.9,2),(790.5,6.1),(789.4,6.2),(789.0,3),(788.4,5),(787.6,7.2),(787.2,5),(786.4,3.5),(785.6,4.8),(784.9,4.2),(784.1,3.5),(782.6,3.3),(781.1,2.8),(779.5,2.5),(778.8,2.2),(778.0,2),(777.3,1),(776.5,0.5),(775.0,0.4),(773.5,0.8),(772.2,0.5),(771.2,1),(770.4,0.3),(769.7,4.3),(768.9,1.2),(768.1,0.5),(767.4,1),(765.9,8.5),(765.1,4),(764.3,3),(763.6,3.5),(762.8,5.5),(762.1,3.5),(761.3,7.5),(760.5,3.7),(760.1,2),(759.5,6.5),(758.6,7),(757.9,5.7),(757.3,7),(756.7,10.5),(755.9,12.7),(755.5,7.5),(754.9,9.5),(754.0,17.6),(753.4,11),(752.8,18),(752.2,13.5),(751.6,17),(750.9,12),(750.3,10.5),(749.7,6.1),(749.1,11),(748.5,20),(747.9,15),(747.3,19.2),(746.7,14),(746.1,17),(745.6,9.5),(745.3,12),(744.9,21.2),(744.4,13.5),(744.0,17.5),(743.5,11),(743.0,20),(742.6,14),(742.1,5),(741.5,7),(740.9,4),(740.3,6.5),(739.7,5.3),(739.1,7.2),(738.5,5.1),(738.0,7.5),(737.4,4.3),(736.8,5.2),(736.2,7.3),(735.6,5.2),(735.1,12.2),(734.7,8),(734.2,6.5),(733.6,11),(733.0,6.5),(732.4,8),(731.8,4.2),(731.2,7),(730.6,12),(730.0,5),(729.4,9),(728.7,6.5),(728.1,5),(727.5,8),(726.9,4.7),(726.3,6),(725.7,10.5),(725.4,19),(725.1,13),(724.8,22.4),(724.3,14),(723.9,21.8),(723.3,9.5),(722.7,12),(722.2,17.5),(721.7,11),(721.1,13),(720.5,11.5),(719.9,12.9),(719.3,12),(718.7,13),(718.2,17.2),(717.6,12),(717.0,10),(716.4,9),(715.8,7.3),(715.2,9.5),(714.4,8),(713.8,8.8),(713.2,7),(712.6,10.8),(712.0,5),(711.4,4.3),(710.8,6),(710.2,8),(709.6,9),(709.3,11.4),(708.7,7),(708.1,10.3),(707.6,5),(707.0,6),(706.6,10.3),(706.0,2.5),(705.3,1.6),(704.7,2.2),(703.5,2.3),(702.7,1.8),(702.0,1),(701.2,0.5),(700.0,0.3)]

# ---- (k) S. Atlantic ----
K_752 = [(900,6.3),(897.4,6.5),(895.9,6.2),(895.1,5.5),(894.4,4.8),(893.6,4.4),(892.1,3.8),(890.6,3.7),(888.3,4.1),(886,4.6),(883,4.5),(879.9,4.3),(877.6,4.4),(876.1,4.2),(873.8,3.8),(871.6,4.4),(870,4),(867.8,4),(866.2,4.4),(863.2,5.5),(860.1,6.3),(858.6,6.1),(857.1,6.4),(855.6,6.7),(854.1,6.3),(852.5,6.2),(851.8,4),(851,2.8),(848,2.4),(844.9,2.5),(841.1,2.9),(838.9,3.4),(835.8,3.6),(831.3,3.4),(826.7,3.3),(822.1,3.2),(819.1,2.8),(814.5,2.7),(810,3),(806.9,2.8),(803.9,2.6),(800.8,2.3),(796.3,1.9),(791.7,1.6),(788.7,1.8),(785.6,1.8),(782.6,1.5),(780.3,1.3),(778.8,2.5),(778,3.5),(777.3,4.5),(776.5,5.8),(775,5.5),(773.5,5),(772,5),(770.4,5.5),(768.9,6.3),(767.4,7.6),(765.2,7.8),(763.6,7.3),(762.1,6.5),(760.5,6.6),(759,6.2),(757.5,6.5),(756.7,6.9),(755.2,6.8),(754.5,4.5),(752.2,4.2),(749.1,3.9),(746.9,3.7),(744.6,4.4),(741.5,4.7),(738.5,4.9),(737,4.6),(735.5,4.8),(732.4,4.7),(729.4,4.9),(726.3,5.1),(723.3,5.4),(720.2,5.7),(718.7,5.9),(717.2,5.7),(714.9,5.1),(713.4,4.7),(711.1,4.5),(708.8,4.2),(708.1,4.8),(706.6,5.5),(705,5.4),(703.5,4.9),(701.2,4.8),(700,4.7)]

# x-axis tick values
AGE_TICKS = [900, 850, 800, 750, 700]
VADM_TICKS = [0, 5, 10, 15, 20, 25]

# colours
ORANGE, LBLUE, YELLOW, PURPLE = "#D95319", "#4DBEEE", "#EDB120", "#7E2F8E"
PINK, BROWN, CYAN, GRAY = "#FF8096", "#A67C64", "#00FFFF", "#808080"
BLUE = "#0072BD"

# ======================= FIGURE =======================
sns.set_theme(style="ticks")
plt.rcParams["font.family"] = ["Liberation Sans", "DejaVu Sans"]
plt.rcParams["mathtext.fontset"] = "cm"
plt.rcParams["axes.linewidth"] = 0.9
plt.rcParams["axes.edgecolor"] = "#262626"

fig = plt.figure(figsize=(10.88, 15.06), dpi=100)
W, H = 1088.0, 1506.0

def make_axes(col, row):
    x0 = (73 if col == 0 else 605) / W
    y0 = 1 - (250 + 240 * row) / H
    return fig.add_axes([x0, y0, 455 / W, 240 / H])

def draw(ax, series, lw=1.3):
    handles = []
    for name, pts, color in series:
        t = [p[0] for p in pts]
        v = [p[1] for p in pts]
        sns.lineplot(x=t, y=v, ax=ax, color=color, lw=lw, sort=False,
                     estimator=None, legend=False)
        ln = ax.lines[-1]
        ln.set_label(name)
        handles.append(ln)
    return handles

def style(ax, title, show0, xlabels):
    ax.set_xlim(900, 700)
    ax.set_ylim(0, 27)
    ax.set_xticks(AGE_TICKS)
    ax.xaxis.set_minor_locator(MultipleLocator(10))
    ax.set_yticks(VADM_TICKS)
    ax.set_yticklabels([("0" if show0 else "") if v == 0 else str(v) for v in VADM_TICKS])
    ax.yaxis.set_minor_locator(MultipleLocator(1))
    ax.tick_params(which="both", direction="in", top=True, right=True,
                   labelsize=14, colors="#262626")
    ax.tick_params(which="major", length=5, width=0.8)
    ax.tick_params(which="minor", length=2.5, width=0.7)
    ax.tick_params(axis="x", labelbottom=xlabels, pad=9)
    ax.set_ylabel(r"$\mathrm{VADM}\ (\times 10^{22}\ \mathrm{Am}^2)$",
                  fontsize=15.5, labelpad=3, color="#262626")
    if xlabels:
        ax.set_xticklabels([str(a) for a in AGE_TICKS])
        ax.set_xlabel("Age (ka)", fontsize=15.5, family="cmr10", color="#262626", labelpad=2)
    else:
        ax.set_xlabel("")
    ax.text(0.03, 0.965, title, transform=ax.transAxes, ha="left", va="top",
            fontsize=15.5, family="cmr10", color="#262626")

def leg(ax, handles, anchor, fs, ncol=1, loc="upper left", hl=2.4, htp=0.05, cs=1.0, ls=0.3):
    ax.legend(handles=handles, loc=loc, bbox_to_anchor=anchor, ncol=ncol,
              frameon=False, fontsize=fs, handlelength=hl, handletextpad=htp,
              columnspacing=cs, labelspacing=ls, borderpad=0, borderaxespad=0)

# (a)
ax = make_axes(0, 0)
h = draw(ax, [("U1305", A_U1305, ORANGE), ("U1306", A_U1306, LBLUE), ("U1307", A_U1307, YELLOW),
              ("U1304", A_U1304, PURPLE), ("U1308", A_U1308, PINK), ("ODP983", A_ODP983, "black"),
              ("ODP984", A_ODP984, BROWN), ("U1302", A_U1302, CYAN), ("ODP980", A_ODP980, GRAY),
              ("MD95-2016", A_MD95, "#5964AE"), ("609B", A_609B, "#B5AE00")])
style(ax, "(a) N. Atlantic", True, False)
leg(ax, h, (0.028, 0.847), 9.3, ncol=3, hl=2.2, htp=0.3, cs=0.85, ls=0.4)

# (b)
ax = make_axes(0, 1)
h = draw(ax, [("ODP767B", B_ODP767B, "#FF0000"), ("ODP769A", B_ODP769A, LBLUE), ("ODP769B", B_ODP769B, YELLOW),
              ("KH73-4-7", B_KH7347, PURPLE), ("KH73-4-8", B_KH7348, "#0000FF"), ("KH90-3-5", B_KH9035, "black"),
              ("MD97-2143", B_MD972143, BROWN), ("MD98-2183", B_MD982183, GRAY), ("MD98-2185", B_MD982185, "#3C5A7D"),
              ("MD98-2187", B_MD982187, "#5E6DB4"), ("MR1402-PC1", B_MR1402, CYAN), ("MD012380", B_MD012380, "#7FD28E")])
style(ax, "(b) W. Equatorial Pacific", False, False)
leg(ax, h, (0.024, 0.847), 9.8, ncol=3, hl=2.0, htp=0.3, cs=1.0, ls=0.3)

# (c)
ax = make_axes(0, 2)
h = draw(ax, [("NGC69", C_NGC69, ORANGE), ("KR0310-PC1", C_KR0310, LBLUE), ("SO202-1", C_SO202, "#0000FF"),
              ("NPGP1401-2A", C_NPGP, PURPLE), ("RC10-167", C_RC10, PINK), ("OB", C_OB, "black"),
              ("YT", C_YT, BROWN), ("CBCS", C_CBCS, GRAY), ("CHBT", C_CHBT, "#5A69B5")])
style(ax, "(c) N. Pacific", False, False)
leg(ax, h, (0.037, 0.808), 10.5, ncol=2, hl=2.1, htp=0.2, cs=1.0, ls=0.3)

# (d)
ax = make_axes(0, 3)
h = draw(ax, [("1101", D_1101, "black"), ("PC20", D_PC20, BLUE), ("CADO", D_CADO, ORANGE)])
style(ax, "(d) Antarctica", False, False)
leg(ax, h, (0.035, 0.817), 10.5)

# (e)
ax = make_axes(0, 4)
h = draw(ax, [("ODP1010", E_1010, "black"), ("ODP1021.A", E_1021A, BLUE), ("ODP1021.B", E_1021B, YELLOW)])
style(ax, "(e) E. Northern Pacific", False, False)
leg(ax, h, (0.037, 0.82), 10.5)

# (f)
ax = make_axes(0, 5)
h = draw(ax, [("LC07", F_LC07, ORANGE), ("HS", F_HS, LBLUE), ("ICDP5045-1", F_ICDP, "#A6A6A6")])
style(ax, "(f) Mediterranean", True, True)
leg(ax, h, (0.965, 0.955), 10.5, loc="upper right")

# (g)
ax = make_axes(1, 0)
h = draw(ax, [("MD90-0940", G_0940, "black"), ("MD90-961", G_961, BLUE), ("MD90-949", G_949, YELLOW)])
style(ax, "(g) Equatorial Indian Ocean", True, False)
leg(ax, h, (0.044, 0.81), 10.5)

# (h)
ax = make_axes(1, 1)
h = draw(ax, [("ODP848-851", H_848, "black"), ("ODP851", H_851, BLUE)])
style(ax, "(h) E. Equatorial Pacific", False, False)
leg(ax, h, (0.033, 0.80), 10.5)

# (i)
ax = make_axes(1, 2)
h = draw(ax, [("CAS1624PC", I_CAS, "black")])
style(ax, "(i) Caribbean Sea", False, False)
leg(ax, h, (0.037, 0.805), 10.5)

# (j)
ax = make_axes(1, 3)
h = draw(ax, [("ODP1063", J_1063, "black")])
style(ax, "(j) Mid-latitude N. Atlantic", False, False)
leg(ax, h, (0.044, 0.80), 10.5)

# (k)
ax = make_axes(1, 4)
h = draw(ax, [("KS752", K_752, "black")])
style(ax, "(k) S. Atlantic", True, True)
leg(ax, h, (0.037, 0.825), 10.5)

fig.savefig("out.png", dpi=100, facecolor="white")
